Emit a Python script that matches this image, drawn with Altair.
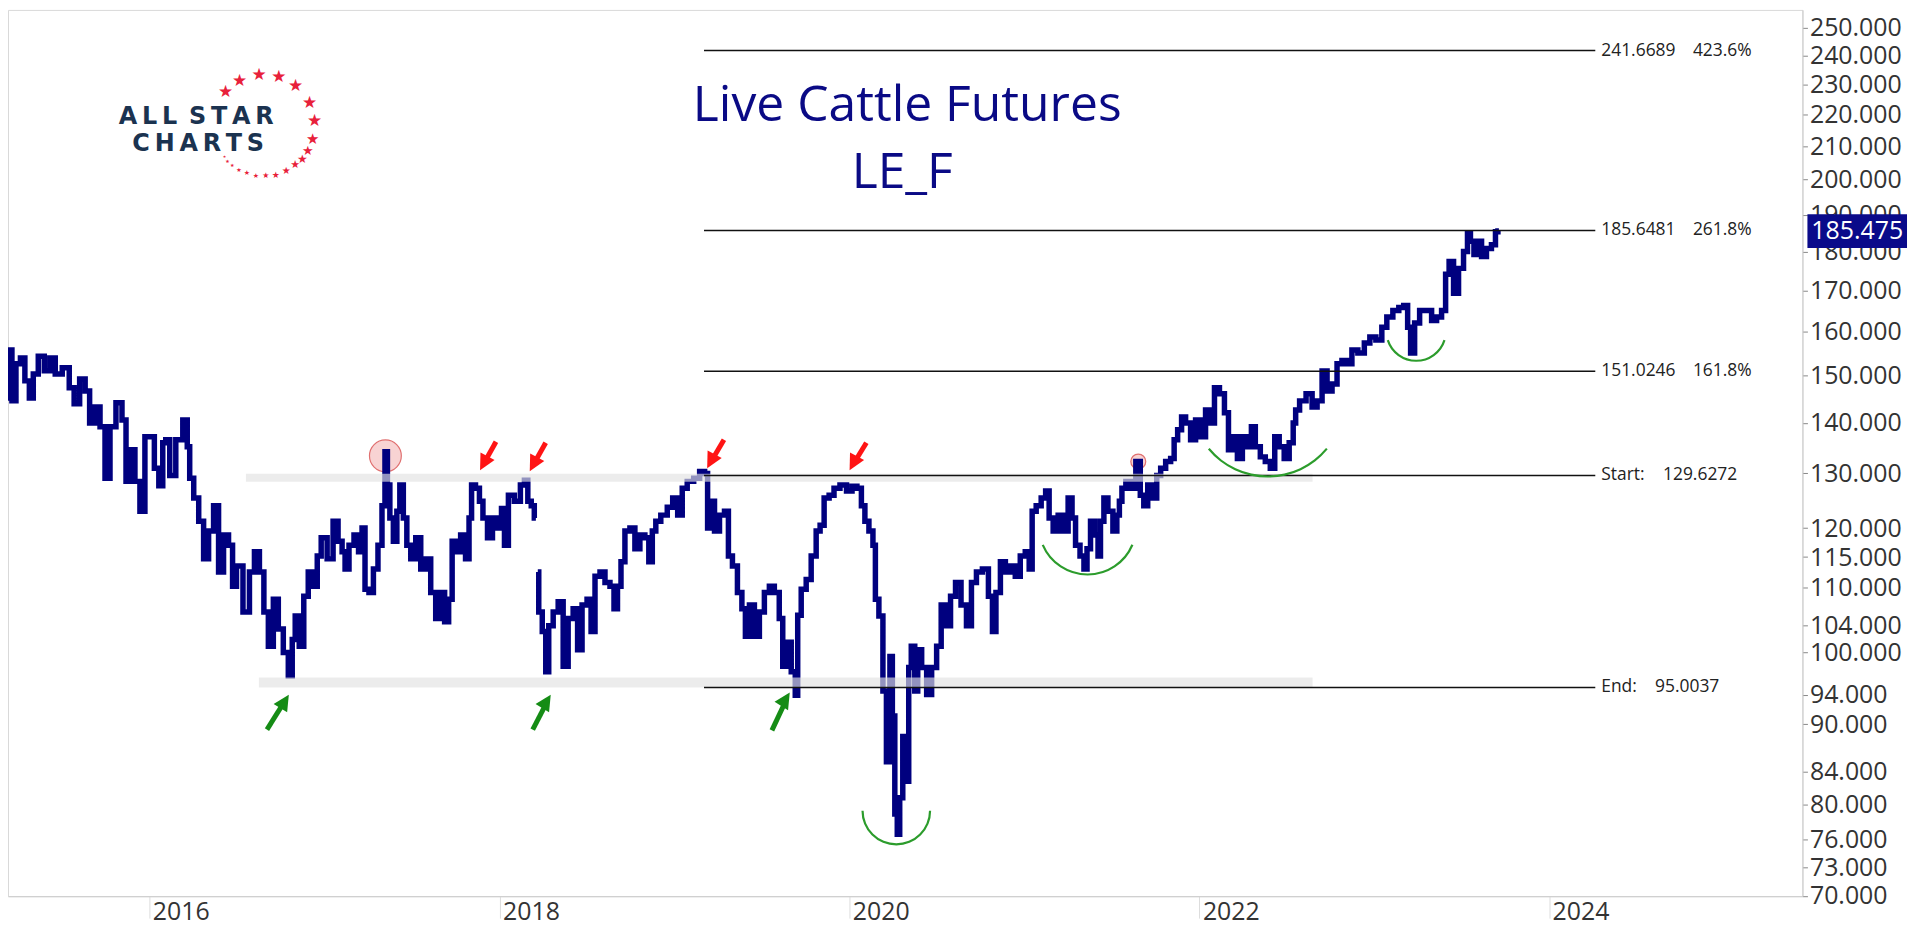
import math
import altair as alt
import pandas as pd

# ---------------- data ----------------
DATES_A = [
    2015.180, 2015.186, 2015.203, 2015.226, 2015.249, 2015.277, 2015.300, 2015.328, 2015.345, 2015.385,
    2015.414, 2015.448, 2015.476, 2015.528, 2015.556, 2015.584, 2015.619, 2015.647, 2015.670, 2015.704,
    2015.732, 2015.761, 2015.789, 2015.829, 2015.858, 2015.875, 2015.903, 2015.932, 2015.960, 2015.989,
    2016.017, 2016.040, 2016.068, 2016.085, 2016.102, 2016.131, 2016.171, 2016.211, 2016.222, 2016.239,
    2016.268, 2016.296, 2016.324, 2016.353, 2016.381, 2016.410, 2016.438, 2016.467, 2016.484, 2016.512,
    2016.558, 2016.586, 2016.615, 2016.643, 2016.666, 2016.694, 2016.723, 2016.751, 2016.780, 2016.808,
    2016.825, 2016.842, 2016.871, 2016.894, 2016.922, 2016.951, 2016.968, 2016.996, 2017.036, 2017.064,
    2017.093, 2017.110, 2017.127, 2017.155, 2017.184, 2017.207, 2017.224, 2017.241, 2017.269, 2017.292,
    2017.321, 2017.338, 2017.355, 2017.366, 2017.383, 2017.406, 2017.423, 2017.440, 2017.463, 2017.480,
    2017.508, 2017.537, 2017.565, 2017.594, 2017.622, 2017.651, 2017.679, 2017.696, 2017.725, 2017.736,
    2017.765, 2017.793, 2017.821, 2017.833, 2017.850, 2017.878, 2017.895, 2017.918, 2017.947, 2017.975,
    2018.004, 2018.021, 2018.038, 2018.066, 2018.106, 2018.135, 2018.152, 2018.174, 2018.191, 2018.209,
]
PRICES_A = [
    150.4, 145.2, 155.8, 144.6, 152.7, 154.0, 148.9, 145.2, 150.4, 154.4,
    151.1, 154.0, 150.4, 151.8, 147.4, 144.0, 149.3, 146.7, 140.0, 143.3,
    139.2, 129.1, 139.2, 144.2, 140.6, 128.5, 134.6, 128.5, 123.0, 137.2,
    137.2, 131.0, 127.7, 136.0, 136.6, 129.6, 136.6, 140.6, 135.2, 129.1,
    125.4, 121.2, 114.7, 119.5, 124.0, 112.5, 118.8, 117.0, 110.2, 113.5,
    106.1, 112.5, 115.9, 112.5, 106.1, 100.9, 108.1, 103.5, 100.0, 96.6,
    101.9, 105.5, 100.9, 108.6, 112.5, 110.2, 115.2, 118.3, 114.7, 121.2,
    117.7, 115.9, 113.0, 117.0, 118.8, 115.9, 120.0, 109.7, 109.2, 113.0,
    117.0, 124.0, 134.2, 127.8, 121.8, 117.7, 123.0, 127.8, 121.8, 117.0,
    114.7, 118.3, 113.0, 114.7, 109.2, 105.1, 109.2, 104.6, 108.1, 117.7,
    115.9, 118.8, 114.7, 121.8, 127.8, 127.2, 124.8, 121.8, 118.3, 121.8,
    120.0, 123.5, 117.0, 125.9, 124.8, 127.8, 128.7, 124.8, 124.0, 121.8,
]
DATES_B = [
    2018.220, 2018.231, 2018.260, 2018.271, 2018.294, 2018.322, 2018.351, 2018.379, 2018.408, 2018.436,
    2018.459, 2018.487, 2018.516, 2018.533, 2018.561, 2018.590, 2018.618, 2018.647, 2018.664, 2018.687,
    2018.704, 2018.732, 2018.761, 2018.789, 2018.818, 2018.846, 2018.863, 2018.886, 2018.903, 2018.943,
    2018.977, 2019.005, 2019.034, 2019.057, 2019.091, 2019.131, 2019.159, 2019.188, 2019.193, 2019.216,
    2019.244, 2019.273, 2019.301, 2019.318, 2019.347, 2019.375, 2019.398, 2019.415, 2019.444, 2019.472,
    2019.501, 2019.529, 2019.558, 2019.586, 2019.614, 2019.626, 2019.654, 2019.683, 2019.700, 2019.711,
    2019.740, 2019.768, 2019.797, 2019.825, 2019.842, 2019.871, 2019.899, 2019.927, 2019.967, 2020.002,
    2020.030, 2020.058, 2020.081, 2020.098, 2020.127, 2020.144, 2020.155, 2020.184, 2020.201, 2020.224,
    2020.241, 2020.252, 2020.269, 2020.280, 2020.297, 2020.315, 2020.337, 2020.343, 2020.366, 2020.383,
    2020.400, 2020.428, 2020.457, 2020.485, 2020.514, 2020.537, 2020.565, 2020.593, 2020.622, 2020.656,
    2020.684, 2020.713, 2020.741, 2020.781, 2020.810, 2020.827, 2020.850, 2020.878, 2020.907, 2020.935,
    2020.963, 2020.992, 2021.020, 2021.037, 2021.054, 2021.083, 2021.111, 2021.134, 2021.151, 2021.180,
    2021.208, 2021.237, 2021.265, 2021.282, 2021.305, 2021.333, 2021.350, 2021.368, 2021.390, 2021.419,
    2021.425, 2021.447, 2021.464, 2021.493, 2021.521, 2021.538, 2021.550, 2021.567, 2021.595, 2021.624,
    2021.652, 2021.675, 2021.692, 2021.720, 2021.749, 2021.766, 2021.794, 2021.823, 2021.851, 2021.863,
    2021.891, 2021.908, 2021.937, 2021.965, 2021.994, 2022.022, 2022.051, 2022.073, 2022.102, 2022.130,
    2022.159, 2022.176, 2022.204, 2022.233, 2022.261, 2022.290, 2022.307, 2022.335, 2022.364, 2022.392,
    2022.421, 2022.443, 2022.472, 2022.500, 2022.529, 2022.546, 2022.557, 2022.591, 2022.631, 2022.660,
    2022.688, 2022.717, 2022.745, 2022.774, 2022.802, 2022.830, 2022.859, 2022.887, 2022.927, 2022.961,
    2022.990, 2023.030, 2023.058, 2023.087, 2023.127, 2023.155, 2023.183, 2023.200, 2023.217, 2023.246,
    2023.274, 2023.314, 2023.343, 2023.371, 2023.400, 2023.417, 2023.440, 2023.468, 2023.497, 2023.525,
    2023.542, 2023.559, 2023.582, 2023.600, 2023.628, 2023.656, 2023.685, 2023.702, 2023.713,
]
PRICES_B = [
    112.5, 106.1, 103.1, 97.2, 104.0, 106.1, 107.7, 98.0, 105.1, 106.6,
    100.4, 107.2, 108.1, 103.1, 111.8, 112.5, 110.8, 110.2, 106.6, 110.2,
    114.2, 119.5, 120.0, 116.4, 118.8, 118.3, 114.2, 119.5, 121.2, 122.3,
    123.7, 125.4, 122.3, 127.2, 128.5, 129.1, 130.4, 130.0, 120.0, 124.8,
    119.5, 122.3, 123.0, 115.2, 113.5, 109.2, 106.6, 102.4, 107.2, 102.4,
    106.1, 109.2, 110.2, 109.2, 105.1, 98.0, 101.5, 97.2, 93.9, 105.6,
    109.7, 111.3, 115.2, 119.5, 120.5, 125.4, 125.9, 127.2, 127.8, 126.7,
    127.6, 127.2, 124.0, 121.2, 119.5, 117.0, 108.1, 105.5, 94.5, 85.2,
    99.4, 91.1, 78.9, 76.6, 80.8, 88.4, 82.8, 97.8, 100.9, 94.5,
    100.4, 97.8, 94.0, 97.8, 100.9, 107.2, 104.0, 108.6, 110.8, 107.2,
    104.0, 110.8, 112.5, 113.0, 108.6, 103.1, 109.2, 114.2, 112.5, 113.5,
    111.8, 115.2, 115.9, 113.0, 123.0, 124.0, 125.4, 126.7, 121.8, 119.5,
    122.3, 119.5, 125.4, 121.8, 117.0, 115.2, 113.0, 116.4, 121.2, 118.8,
    115.2, 121.2, 125.4, 123.0, 119.5, 122.3, 124.8, 127.2, 128.5, 127.2,
    132.3, 125.9, 124.0, 127.8, 125.4, 129.6, 131.0, 132.3, 132.9, 136.6,
    138.6, 141.2, 140.0, 136.6, 140.6, 137.2, 142.7, 140.0, 147.4, 146.1,
    142.1, 134.6, 137.2, 132.9, 137.2, 135.2, 139.2, 135.2, 133.2, 132.3,
    131.0, 137.2, 135.2, 132.9, 136.0, 140.0, 142.7, 144.6, 146.1, 143.3,
    144.6, 151.1, 146.7, 148.2, 152.7, 153.4, 152.7, 155.8, 155.1, 157.4,
    158.8, 158.1, 161.1, 163.5, 165.1, 165.8, 166.3, 161.1, 155.1, 162.1,
    165.1, 165.1, 162.7, 163.5, 165.1, 174.1, 177.4, 169.3, 175.6, 180.0,
    184.8, 182.7, 179.2, 182.7, 178.7, 180.8, 181.8, 185.3, 185.475,
]
LAST_PRICE = [185.475]
LAST_LABEL = ["185.475"]

FIB_LEVELS = [241.6689, 185.6481, 151.0246, 129.6272, 95.0037]
FIB_LABEL_1 = ["241.6689", "185.6481", "151.0246", "Start:", "End:"]
FIB_LABEL_2 = ["423.6%", "261.8%", "161.8%", "129.6272", "95.0037"]
FIB_FROM = 2019.170
FIB_TO = 2024.264

BAND_LEVELS = [129.2, 95.7]
BAND_FROM = [2016.552, 2016.626]
BAND_TO = [2022.648, 2022.648]

Y_TICKS = [70, 73, 76, 80, 84, 90, 94, 100, 104, 110, 115, 120, 130, 140, 150,
           160, 170, 180, 190, 200, 210, 220, 230, 240, 250]
X_TICK_YEARS = [2016, 2018, 2020, 2022, 2024]
X_DOMAIN = [2015.192, 2025.448]
Y_DOMAIN = [69.95, 256.5]

RED_TIP_DATES = [2017.890, 2018.174, 2019.188, 2020.002]
RED_TIP_PRICES = [130.6, 130.4, 131.0, 130.6]
RED_TAIL_DATES = [2017.981, 2018.265, 2019.284, 2020.098]
RED_TAIL_PRICES = [136.2, 136.0, 136.6, 136.0]
GREEN_TIP_DATES = [2016.797, 2018.294, 2019.660]
GREEN_TIP_PRICES = [94.0, 94.0, 94.3]
GREEN_TAIL_DATES = [2016.672, 2018.191, 2019.558]
GREEN_TAIL_PRICES = [89.3, 89.3, 89.2]

CIRCLE_DATES = [2017.349, 2021.652]
CIRCLE_PRICES = [133.4, 132.3]

ARC_DATES = [2020.269, 2021.362, 2022.392, 2023.240]
ARC_PRICES = [79.3, 120.4, 144.8, 160.2]

TITLE_1 = "Live Cattle Futures"
TITLE_2 = "LE_F"
LOGO_1 = "A\u2009L\u2009L\u2002S\u2009T\u2009A\u2009R"
LOGO_2 = "C\u2009H\u2009A\u2009R\u2009T\u2009S"

# ---------------- styles ----------------
W, H = 1802, 890
NAVY = "#00007f"
RED = "#ff1414"
GREEN = "#158c15"
ARC_GREEN = "#2c9c2c"
CIRCLE_SIZES = [1024, 225]
ARC_RADII = [35, 50, 78, 31]
ARC_THETAS = [(1.571, 4.712), (1.97, 4.31), (2.26, 4.02), (1.88, 4.40)]
STAR_ANGLES = [-49, -28.5, -5.6, 17, 38.5, 64, 85.5, 106, 120, 131, 142, 154,
               166.5, 178, 189, 199.5, 209.6, 218.7, 225.8, 231]
STAR_FONT = [17, 17, 17, 17, 17, 17, 17, 15, 13, 12, 11, 10, 9, 8, 7, 7, 6, 5, 5, 4]
STAR_CENTER = (257, 116)
STAR_R = 51
HEAD_PATH = "M0,0L0.8,1.6L-0.8,1.6Z"
BADGE_PATH = "M-1,-0.34H1V0.34H-1Z"


def to_ts(dy):
    return pd.Timestamp("2016-01-01") + pd.to_timedelta((dy - 2016.0) * 365.25, unit="D")


def dt(dy):
    t = to_ts(dy)
    return alt.DateTime(year=t.year, month=t.month, date=t.day, hours=t.hour, minutes=t.minute)


assert len(DATES_A) == len(PRICES_A) and len(DATES_B) == len(PRICES_B)

rows = []
for seg, (ds, ps) in enumerate([(DATES_A, PRICES_A), (DATES_B, PRICES_B)]):
    for d, p in zip(ds, ps):
        rows.append({"date": to_ts(d), "price": p, "seg": seg, "idx": len(rows)})
price_df = pd.DataFrame(rows)

xscale = alt.Scale(domain=[dt(X_DOMAIN[0]), dt(X_DOMAIN[1])], nice=False)
yscale = alt.Scale(type="log", domain=Y_DOMAIN, nice=False)
xaxis = alt.Axis(values=[alt.DateTime(year=y, month=1, date=1) for y in X_TICK_YEARS],
                 format="%Y", labelAlign="left", labelBaseline="top", labelPadding=-19,
                 labelOffset=3, tickSize=22, tickColor="#dddddd", domainColor="#cccccc",
                 labelFont="Open Sans", labelFontSize=25, labelColor="#333333", grid=False,
                 title=None, labelFlush=False, labelOverlap=False)
yaxis = alt.Axis(orient="right", values=Y_TICKS, format=".3f", tickSize=5, tickColor="#888888",
                 domainColor="#cccccc", labelFont="Open Sans", labelFontSize=25,
                 labelColor="#333333", labelPadding=2, grid=False, title=None,
                 labelOverlap=False, labelFlush=False)


def X(f):
    return alt.X(f, type="temporal", scale=xscale, axis=xaxis, title=None)


def Y(f):
    return alt.Y(f, type="quantitative", scale=yscale, axis=yaxis, title=None)


layers = []

# highlight circles (behind the line)
circ_df = pd.DataFrame({"date": [to_ts(d) for d in CIRCLE_DATES], "price": CIRCLE_PRICES,
                        "sz": CIRCLE_SIZES})
layers.append(alt.Chart(circ_df).mark_point(shape="circle", filled=True, fill="#f6c4c4",
                                            fillOpacity=0.75, stroke="#e07070", strokeWidth=1.2,
                                            opacity=1)
              .encode(x=X("date"), y=Y("price"), size=alt.Size("sz:Q", scale=None)))

# price line
layers.append(alt.Chart(price_df).mark_line(color=NAVY, strokeWidth=5.5, interpolate="step")
              .encode(x=X("date"), y=Y("price"), detail="seg:N", order="idx:Q"))

# translucent grey bands
band_df = pd.DataFrame({"date": [to_ts(d) for d in BAND_FROM], "date2": [to_ts(d) for d in BAND_TO],
                        "price": BAND_LEVELS, "w": [8, 10]})
layers.append(alt.Chart(band_df).mark_rule(color="#e2e2e2", opacity=0.65)
              .encode(x=X("date"), x2="date2:T", y=Y("price"),
                      strokeWidth=alt.StrokeWidth("w:Q", scale=None)))

# fib lines and labels
fib_df = pd.DataFrame({"date": [to_ts(FIB_FROM)] * 5, "date2": [to_ts(FIB_TO)] * 5,
                       "price": FIB_LEVELS, "l1": FIB_LABEL_1, "l2": FIB_LABEL_2})
layers.append(alt.Chart(fib_df).mark_rule(color="#111111", strokeWidth=1.5)
              .encode(x=X("date"), x2="date2:T", y=Y("price")))
txt = dict(align="left", baseline="middle", font="Open Sans", fontSize=17.5, color="#222222")
layers.append(alt.Chart(fib_df).mark_text(dx=6, **txt).encode(x=X("date2"), y=Y("price"), text="l1:N"))
for sel, dx in [([0, 1, 2], 98), ([3], 68), ([4], 60)]:
    layers.append(alt.Chart(fib_df.iloc[sel]).mark_text(dx=dx, **txt)
                  .encode(x=X("date2"), y=Y("price"), text="l2:N"))

# arrows
arr = []
for tds, tps, ads, aps, col, ang, f in [
    (RED_TIP_DATES, RED_TIP_PRICES, RED_TAIL_DATES, RED_TAIL_PRICES, RED, 208, 0.29),
    (GREEN_TIP_DATES, GREEN_TIP_PRICES, GREEN_TAIL_DATES, GREEN_TAIL_PRICES, GREEN, 32, 0.24),
]:
    for td, tp, ad, ap in zip(tds, tps, ads, aps):
        sd = td + f * (ad - td)
        sp = math.exp(math.log(tp) + f * (math.log(ap) - math.log(tp)))
        arr.append({"date": to_ts(ad), "price": ap, "date2": to_ts(sd), "price2": sp,
                    "tdate": to_ts(td), "tprice": tp, "col": col, "ang": ang})
arr_df = pd.DataFrame(arr)
layers.append(alt.Chart(arr_df).mark_rule(strokeWidth=5)
              .encode(x=X("date"), x2="date2:T", y=Y("price"), y2="price2:Q",
                      color=alt.Color("col:N", scale=None)))
layers.append(alt.Chart(arr_df).mark_point(shape=HEAD_PATH, filled=True, size=400, opacity=1)
              .encode(x=X("tdate"), y=Y("tprice"), color=alt.Color("col:N", scale=None),
                      angle=alt.Angle("ang:Q", scale=None)))

# green smile arcs
arc_df = pd.DataFrame({"date": [to_ts(d) for d in ARC_DATES], "price": ARC_PRICES})
for i in range(len(ARC_DATES)):
    t1, t2 = ARC_THETAS[i]
    layers.append(alt.Chart(arc_df.iloc[[i]])
                  .mark_arc(theta=t1, theta2=t2, radius=ARC_RADII[i], radius2=ARC_RADII[i] - 2.2,
                            color=ARC_GREEN)
                  .encode(x=X("date"), y=Y("price")))

# title texts
layers.append(alt.Chart(pd.DataFrame({"t": [TITLE_1]})).mark_text(
    font="Open Sans", fontSize=50, color="#0a0a85", align="center", baseline="alphabetic")
    .encode(x=alt.value(903), y=alt.value(112), text="t:N"))
layers.append(alt.Chart(pd.DataFrame({"t": [TITLE_2]})).mark_text(
    font="Open Sans", fontSize=50, color="#0a0a85", align="center", baseline="alphabetic")
    .encode(x=alt.value(898), y=alt.value(179), text="t:N"))

# logo text
layers.append(alt.Chart(pd.DataFrame({"t": [LOGO_1]})).mark_text(
    font="DejaVu Sans", fontWeight="bold", fontSize=24, color="#1b3350", align="center",
    baseline="alphabetic").encode(x=alt.value(189), y=alt.value(115), text="t:N"))
layers.append(alt.Chart(pd.DataFrame({"t": [LOGO_2]})).mark_text(
    font="DejaVu Sans", fontWeight="bold", fontSize=24, color="#1b3350", align="center",
    baseline="alphabetic").encode(x=alt.value(191), y=alt.value(142), text="t:N"))

# last price badge
badge_df = pd.DataFrame({"price": LAST_PRICE, "t": LAST_LABEL})
layers.append(alt.Chart(badge_df).mark_point(shape=BADGE_PATH, filled=True, size=10000,
                                             color="#0a0a8a", opacity=1)
              .encode(x=alt.value(W + 55), y=Y("price")))
layers.append(alt.Chart(badge_df).mark_text(font="Open Sans", fontSize=25, color="white",
                                            align="center", baseline="middle")
              .encode(x=alt.value(W + 55), y=Y("price"), text="t:N"))

main = alt.layer(*layers)

# logo stars (pixel space)
star_rows = []
for a, fs in zip(STAR_ANGLES, STAR_FONT):
    r = math.radians(a)
    star_rows.append({"px": STAR_CENTER[0] + STAR_R * math.sin(r),
                      "py": STAR_CENTER[1] - STAR_R * math.cos(r), "fs": fs, "s": "\u2605"})
stars = alt.Chart(pd.DataFrame(star_rows)).mark_text(
    font="DejaVu Sans", color="#e8203a", align="center", baseline="middle").encode(
    x=alt.X("px:Q", scale=None, axis=None), y=alt.Y("py:Q", scale=None, axis=None),
    text="s:N", size=alt.Size("fs:Q", scale=None))

chart = (alt.layer(main, stars)
         .resolve_scale(x="independent", y="independent")
         .properties(width=W, height=H, background="white",
                     autosize=alt.AutoSizeParams(type="none"),
                     padding={"left": 0, "top": 0, "right": 107, "bottom": 28})
         .configure_view(stroke="#d9d9d9", strokeWidth=1))

chart.save("out.html", embed_options={"renderer": "svg", "actions": False})
